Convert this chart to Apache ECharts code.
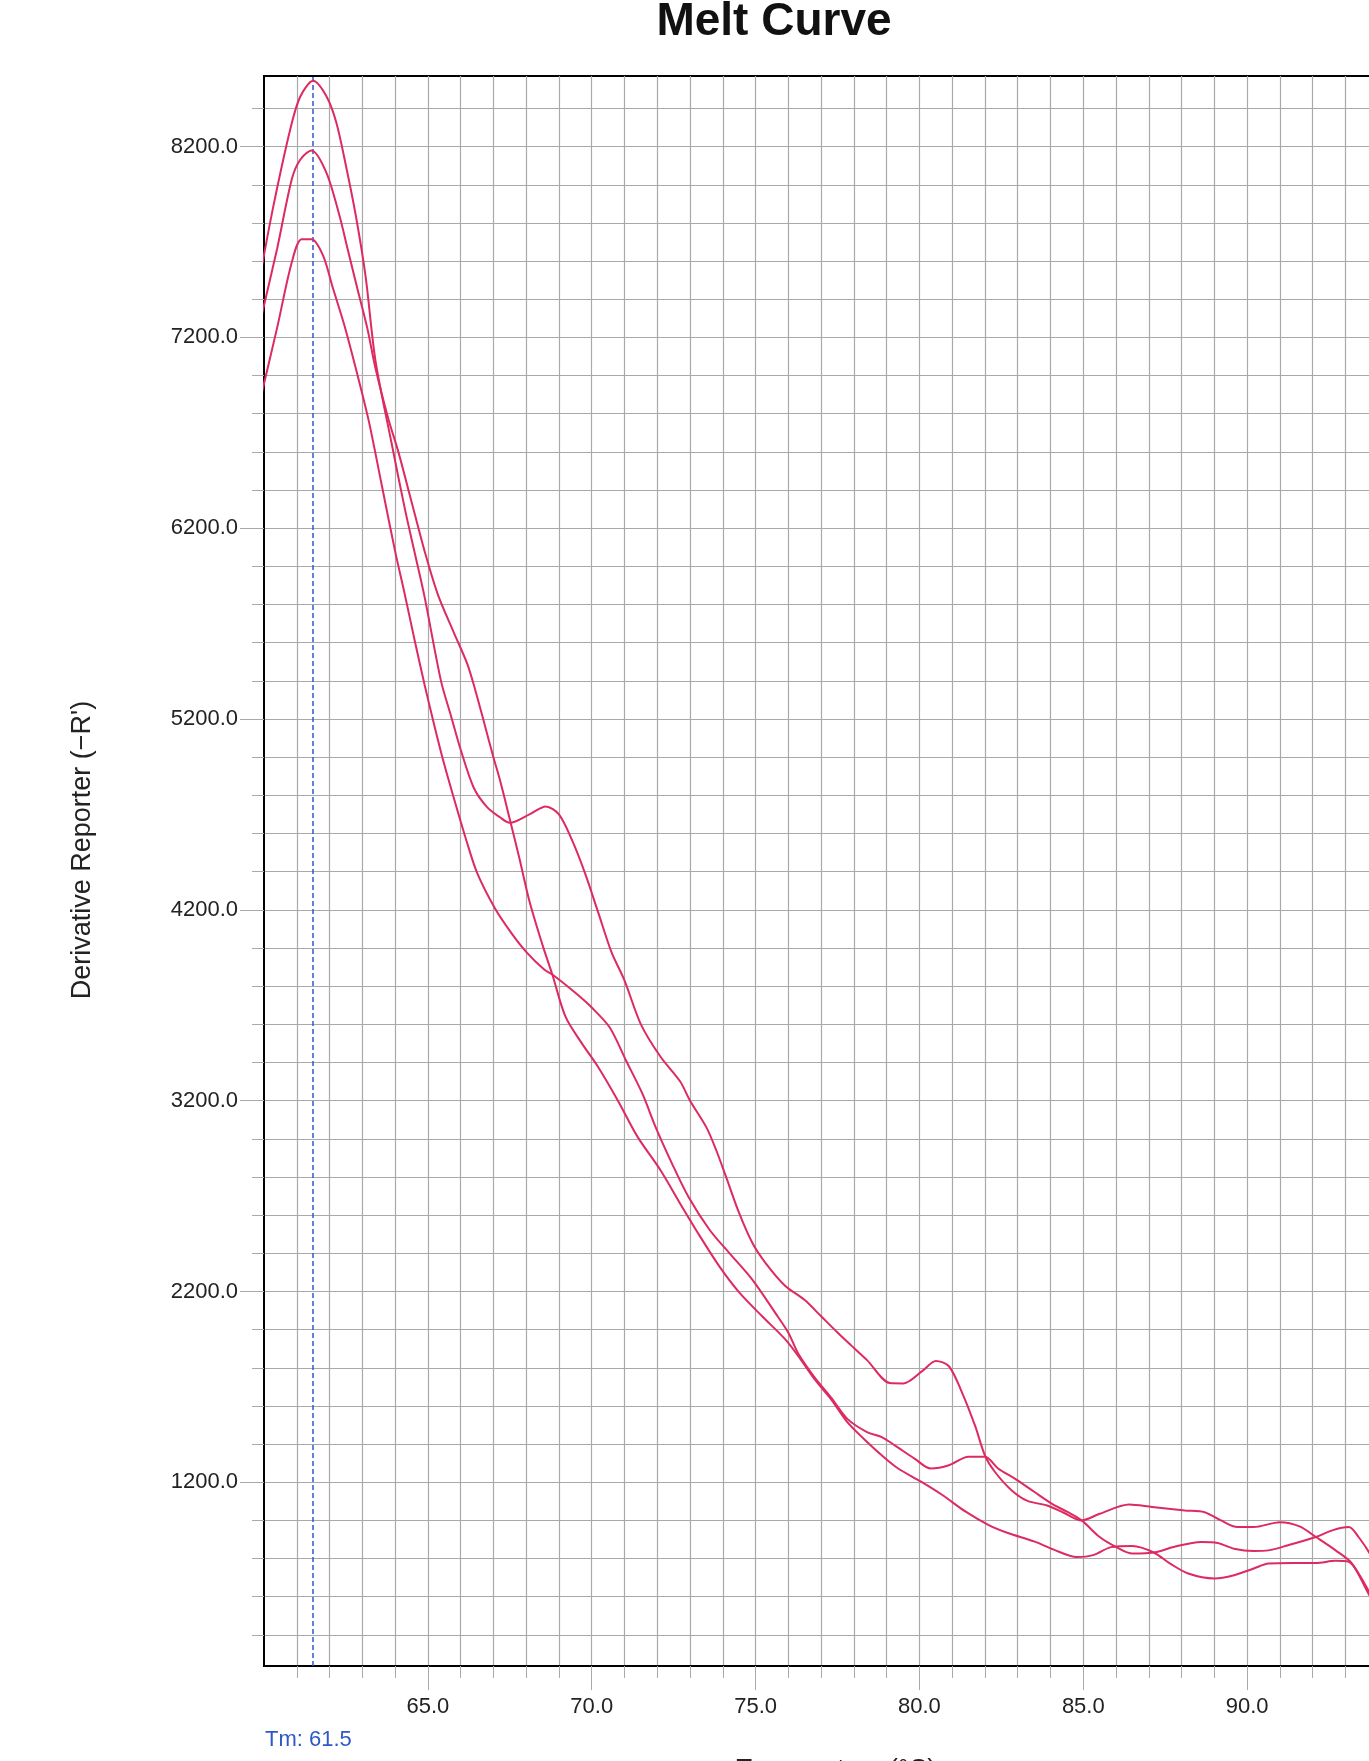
<!DOCTYPE html>
<html>
<head>
<meta charset="utf-8">
<title>Melt Curve</title>
<script src="https://cdn.jsdelivr.net/npm/echarts@6/dist/echarts.min.js"></script>
<style>
html, body { margin: 0; padding: 0; background: #fff; }
#chart { width: 1369px; height: 1761px; }
</style>
</head>
<body>
<div id="chart"></div>
<script>
// well A (highest peak)
var tempA = [59.9, 60.3, 60.8, 61.1, 61.5, 61.9, 62.2, 62.5, 62.8, 63.1, 63.4, 63.9, 64.3, 64.6, 64.9,
    65.4, 65.7, 66.0, 66.4, 66.8, 67.2, 67.5, 68.1, 68.6, 69.0, 69.4, 69.8, 70.2, 70.6, 71.0,
    71.5, 72.1, 72.7, 73.0, 73.5, 73.8, 74.1, 74.5, 74.9, 75.3, 75.9, 76.5, 77.0, 77.5, 77.9,
    78.4, 79.1, 79.5, 80.1, 80.5, 80.9, 81.3, 81.7, 82.0, 82.3, 82.8, 83.3, 83.9, 84.4, 84.95,
    85.5, 86.4, 87.1, 88.1, 88.7, 89.2, 89.7, 90.2, 91.0, 91.6, 92.1, 92.7, 93.2, 93.7, 93.9];
var valA = [7540, 7900, 8290, 8460, 8545, 8465, 8330, 8100, 7840, 7520, 7080, 6640, 6300, 6070, 5840,
    5400, 5220, 5040, 4840, 4740, 4685, 4656, 4700, 4742, 4700, 4565, 4390, 4185, 3980, 3830,
    3600, 3430, 3300, 3200, 3060, 2940, 2800, 2610, 2455, 2350, 2230, 2155, 2070, 1985, 1920,
    1840, 1720, 1718, 1785, 1836, 1808, 1670, 1495, 1340, 1255, 1160, 1102, 1078, 1040, 1000,
    1035, 1083, 1070, 1052, 1043, 1000, 965, 965, 991, 969, 913, 843, 774, 617, 560];

// well B (middle peak)
var tempB = [59.9, 60.4, 60.85, 61.1, 61.45, 61.9, 62.3, 62.55, 62.85, 63.15, 63.4, 63.8, 64.1, 64.5, 64.9,
    65.3, 65.8, 66.2, 66.45, 66.75, 67.0, 67.2, 67.5, 67.8, 68.1, 68.5, 68.8, 69.2, 69.7, 70.2,
    70.8, 71.4, 72.1, 72.7, 73.3, 73.9, 74.5, 75.2, 75.9, 76.3, 76.8, 77.3, 77.8, 78.3, 78.85,
    79.35, 80.05, 80.7, 81.4, 82.1, 82.7, 83.5, 84.1, 84.8, 85.3, 85.85, 86.5, 87.15, 87.65, 88.2,
    89.0, 89.6, 90.2, 90.65, 91.4, 92.1, 92.7, 93.1, 93.4, 93.8, 93.9];
var valB = [7295, 7665, 8030, 8130, 8180, 8065, 7840, 7665, 7455, 7250, 7040, 6770, 6600, 6340, 6080,
    5855, 5650, 5490, 5350, 5160, 5000, 4880, 4675, 4465, 4245, 4015, 3860, 3640, 3500, 3375,
    3200, 3010, 2835, 2660, 2490, 2330, 2195, 2070, 1950, 1862, 1740, 1636, 1515, 1428, 1341,
    1272, 1203, 1133, 1047, 977, 934, 890, 847, 808, 818, 860, 866, 832, 774, 722,
    696, 713, 748, 774, 777, 777, 788, 783, 722, 600, 560];

// well C (lowest peak)
var tempC = [59.9, 60.4, 60.85, 61.15, 61.45, 61.8, 62.1, 62.45, 62.85, 63.2, 63.6, 64.0, 64.3, 64.6, 64.9,
    65.15, 65.45, 65.85, 66.15, 66.5, 67.05, 67.55, 68.0, 68.55, 68.8, 69.5, 70.0, 70.55, 71.05, 71.55,
    71.95, 72.45, 72.95, 73.6, 74.2, 74.9, 75.6, 76.0, 76.3, 76.8, 77.3, 77.8, 78.4, 78.85, 79.25,
    79.85, 80.35, 80.9, 81.5, 82.0, 82.4, 82.9, 83.5, 84.1, 84.5, 84.95, 85.5, 86.0, 86.5, 87.25,
    87.75, 88.6, 89.1, 89.6, 90.2, 90.65, 91.25, 92.1, 92.6, 93.1, 93.4, 93.8, 93.9];
var valC = [6885, 7250, 7595, 7715, 7715, 7630, 7460, 7265, 7005, 6760, 6420, 6080, 5850, 5610, 5380,
    5200, 4995, 4752, 4578, 4395, 4207, 4078, 3980, 3887, 3861, 3765, 3688, 3583, 3409, 3235,
    3061, 2870, 2696, 2522, 2401, 2262, 2088, 1984, 1875, 1750, 1645, 1532, 1463, 1437, 1393,
    1324, 1272, 1289, 1333, 1333, 1272, 1220, 1150, 1081, 1046, 1000, 913, 861, 826, 835,
    861, 887, 882, 852, 840, 843, 870, 913, 948, 965, 913, 809, 760];

var tmValue = 61.5;
var yLabelValues = [1200, 2200, 3200, 4200, 5200, 6200, 7200, 8200];
var xLabelValues = [65, 70, 75, 80, 85, 90, 95];

// minor grid positions
var yMinor = [];
for (var v = 400; v <= 8400; v += 200) yMinor.push(v);
var xMinor = [];
for (var t = 61; t <= 95; t++) xMinor.push(t);

function zip(ts, vs) {
    var out = [];
    for (var i = 0; i < ts.length; i++) out.push([ts[i], vs[i]]);
    return out;
}

var FONT = 'Liberation Sans, Arial, sans-serif';
var lineColor = '#dd2a60';
var gridColor = '#a9a9a9';

var myChart = echarts.init(document.getElementById('chart'));

function makeSeries(name, data, withTm) {
    var s = {
        name: name,
        type: 'line',
        data: data,
        xAxisIndex: 0,
        yAxisIndex: 0,
        showSymbol: false,
        smooth: 0.3,
        lineStyle: { color: lineColor, width: 2 },
        itemStyle: { color: lineColor },
        z: 5
    };
    if (withTm) {
        s.markLine = {
            silent: true,
            symbol: ['none', 'none'],
            label: { show: false },
            lineStyle: { color: '#2f55d4', width: 1.5, type: [5, 3] },
            data: [{ xAxis: tmValue }]
        };
    }
    return s;
}

var option = {
    backgroundColor: '#fff',
    animation: false,
    grid: {
        left: 264,
        top: 76,
        width: 1147,
        height: 1590,
        show: true,
        borderColor: '#000',
        borderWidth: 2,
        backgroundColor: '#fff',
        containLabel: false,
        outerBoundsMode: 'none'
    },
    xAxis: [
        {
            type: 'value', min: 60, max: 95, position: 'bottom',
            axisLine: { show: true, onZero: false, lineStyle: { color: '#000', width: 2 } },
            axisTick: { customValues: xMinor, length: 12, lineStyle: { color: gridColor } },
            axisLabel: { show: false },
            splitLine: { show: true, lineStyle: { color: gridColor, width: 1.2 } }
        },
        {
            type: 'value', min: 60, max: 95, position: 'bottom',
            axisLine: { show: false, onZero: false },
            axisTick: { customValues: xLabelValues, length: 24, lineStyle: { color: gridColor } },
            axisLabel: {
                customValues: xLabelValues, margin: 30, fontSize: 22, color: '#222', fontFamily: FONT,
                formatter: function (v) { return v.toFixed(1); }
            },
            splitLine: { show: false }
        }
    ],
    yAxis: [
        {
            type: 'value', min: 237, max: 8570, position: 'left',
            axisLine: { show: true, onZero: false, lineStyle: { color: '#000', width: 2 } },
            axisTick: { customValues: yMinor, length: 12, lineStyle: { color: gridColor } },
            axisLabel: { show: false },
            splitLine: { show: true, lineStyle: { color: gridColor, width: 1.2 } }
        },
        {
            type: 'value', min: 237, max: 8570, position: 'left',
            axisLine: { show: false, onZero: false },
            axisTick: { customValues: yLabelValues, length: 24, lineStyle: { color: gridColor } },
            axisLabel: {
                customValues: yLabelValues, margin: 26, fontSize: 22, color: '#222', fontFamily: FONT,
                formatter: function (v) { return v.toFixed(1); }
            },
            splitLine: { show: false }
        }
    ],
    graphic: [
        {
            type: 'text', x: 774, y: 22, z: 10,
            style: { text: 'Melt Curve', fontSize: 46, fontWeight: 'bold', fontFamily: FONT,
                fill: '#111', textAlign: 'center', textVerticalAlign: 'middle' }
        },
        {
            type: 'text', x: 83, y: 850, rotation: Math.PI / 2, z: 10,
            style: { text: 'Derivative Reporter (\u2212R\')', fontSize: 27, fontFamily: FONT,
                fill: '#222', textAlign: 'center', textVerticalAlign: 'middle' }
        },
        {
            type: 'text', x: 836, y: 1770, z: 10,
            style: { text: 'Temperature (\u00b0C)', fontSize: 26, fontFamily: FONT,
                fill: '#222', textAlign: 'center', textVerticalAlign: 'middle' }
        },
        {
            type: 'text', x: 265, y: 1740, z: 10,
            style: { text: 'Tm: ' + tmValue.toFixed(1), fontSize: 22, fontFamily: FONT,
                fill: '#2f58c8', textAlign: 'left', textVerticalAlign: 'middle' }
        }
    ],
    series: [
        makeSeries('A', zip(tempA, valA), true),
        makeSeries('B', zip(tempB, valB), false),
        makeSeries('C', zip(tempC, valC), false)
    ]
};

myChart.setOption(option);
</script>
</body>
</html>
